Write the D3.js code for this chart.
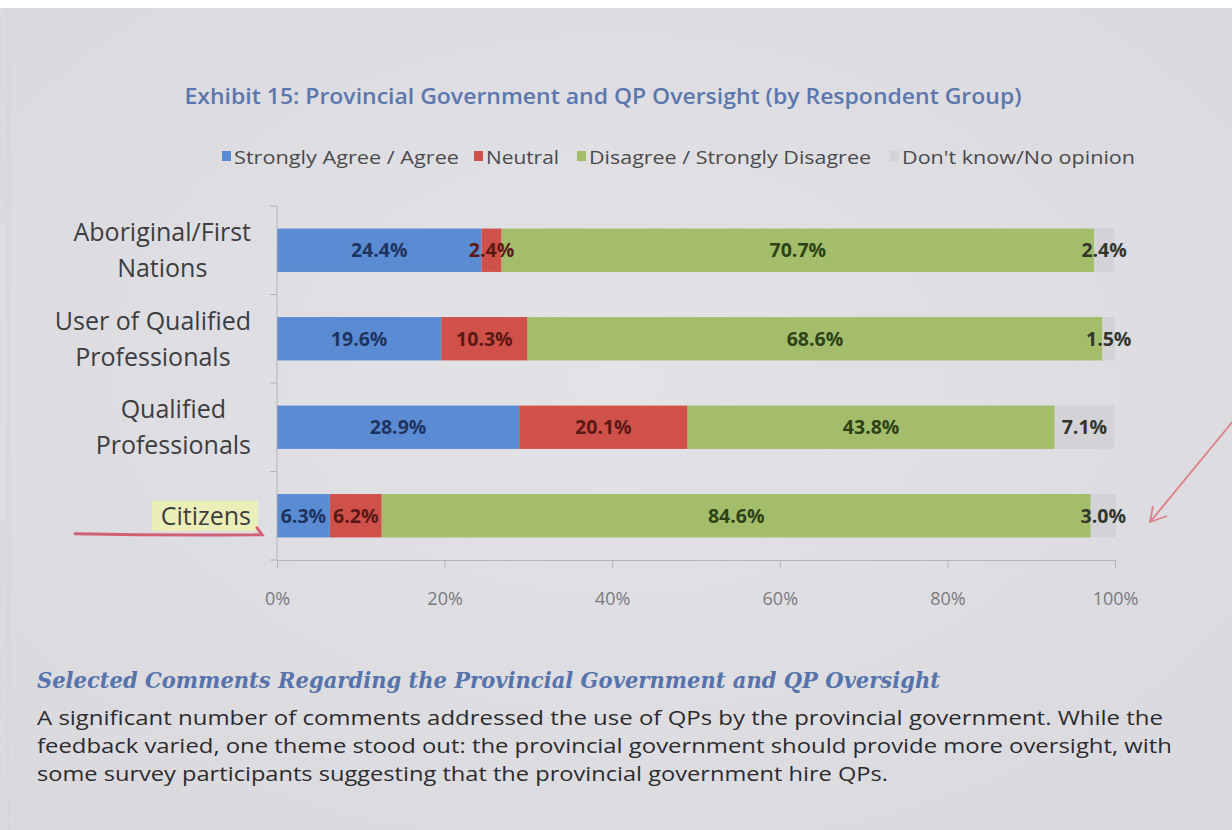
<!DOCTYPE html>
<html><head><meta charset="utf-8">
<script src="https://cdn.jsdelivr.net/npm/d3@7"></script>
<style>html,body{margin:0;padding:0;background:#dfdfe3;} svg{display:block;}</style>
</head><body>
<svg id="chart" width="1232" height="830"></svg>
<script>
// Survey responses by respondent group (percent of respondents)
const categories = ["Aboriginal/First Nations", "User of Qualified Professionals", "Qualified Professionals", "Citizens"];
const categoryLines = [["Aboriginal/First", "Nations"], ["User of Qualified", "Professionals"], ["Qualified", "Professionals"], ["Citizens"]];
const seriesNames = ["Strongly Agree / Agree", "Neutral", "Disagree / Strongly Disagree", "Don't know/No opinion"];
const agree    = [24.4, 19.6, 28.9, 6.3];
const neutral  = [2.4, 10.3, 20.1, 6.2];
const disagree = [70.7, 68.6, 43.8, 84.6];
const dontKnow = [2.4, 1.5, 7.1, 3.0];
const xTicks = [0, 20, 40, 60, 80, 100];
const tickLabels = ["0%", "20%", "40%", "60%", "80%", "100%"];

const colors = ["#5b8bd2", "#d0504a", "#a3bd6b", "#d2d2d7"];
const labelColors = ["#1d3461", "#5a1913", "#2e4217", "#33362c"];
const seriesKeys = ["agree", "neutral", "disagree", "dontKnow"];

const rows = categories.map((c, i) => ({
  category: c, agree: agree[i], neutral: neutral[i], disagree: disagree[i], dontKnow: dontKnow[i]
}));

const svg = d3.select("#chart");
const W = 1232, H = 830;
const font = "'Open Sans', 'DejaVu Sans', sans-serif";

// page background with a slight falloff toward the edges
const defs = svg.append("defs");
const bg = defs.append("radialGradient").attr("id", "bg").attr("cx", "50%").attr("cy", "45%").attr("r", "75%");
bg.append("stop").attr("offset", "0%").attr("stop-color", "#e3e3e7");
bg.append("stop").attr("offset", "100%").attr("stop-color", "#d9d8dd");
svg.append("rect").attr("width", W).attr("height", H).attr("fill", "url(#bg)");
svg.append("rect").attr("width", W).attr("height", 8).attr("fill", "#ffffff");
svg.append("line").attr("x1", 8).attr("x2", 8).attr("y1", 8).attr("y2", H)
  .attr("stroke", "#d2d2d6").attr("stroke-width", 1);

// title
svg.append("text").attr("x", 603).attr("y", 104).attr("text-anchor", "middle")
  .attr("font-family", font).attr("font-size", 22).attr("font-weight", 600)
  .attr("fill", "#5b77ad").attr("textLength", 837).attr("lengthAdjust", "spacingAndGlyphs")
  .text("Exhibit 15: Provincial Government and QP Oversight (by Respondent Group)");

// legend
const legend = svg.append("g").attr("font-family", font).attr("font-size", 18.5).attr("fill", "#4a4a4a");
const legendWidths = [237, 85, 294, 245];
const legendStarts = [222, 474, 577, 890];
seriesNames.forEach((name, i) => {
  const g = legend.append("g").attr("transform", `translate(${legendStarts[i]},0)`);
  g.append("rect").attr("x", 0).attr("y", 151).attr("width", 9).attr("height", 10).attr("fill", colors[i]);
  g.append("text").attr("x", 12).attr("y", 164).attr("textLength", legendWidths[i] - 12)
    .attr("lengthAdjust", "spacingAndGlyphs").text(name);
});

// scales
const x = d3.scaleLinear().domain([0, 100]).range([277, 1115]);
const y = d3.scaleBand().domain(categories).range([206, 560]).paddingInner(0.51).paddingOuter(0.255);

const stack = d3.stack().keys(seriesKeys)(rows);

// bars
const plot = svg.append("g");
stack.forEach((layer, si) => {
  plot.append("g").selectAll("rect").data(layer).join("rect")
    .attr("x", d => x(d[0]))
    .attr("y", d => y(d.data.category))
    .attr("width", d => x(d[1]) - x(d[0]))
    .attr("height", y.bandwidth())
    .attr("fill", colors[si]);
});

// value labels
stack.forEach((layer, si) => {
  plot.append("g").selectAll("text").data(layer).join("text")
    .attr("x", d => (x(d[0]) + x(d[1])) / 2)
    .attr("y", d => y(d.data.category) + y.bandwidth() / 2)
    .attr("dy", "0.36em")
    .attr("text-anchor", "middle")
    .attr("font-family", font).attr("font-size", 19.5).attr("font-weight", 700)
    .attr("fill", labelColors[si])
    .text(d => (d[1] - d[0]).toFixed(1) + "%");
});

// x axis
const xAxis = svg.append("g").attr("transform", `translate(0,${y.range()[1]})`)
  .call(d3.axisBottom(x).tickValues(xTicks).tickFormat((d, i) => tickLabels[i]).tickSize(8).tickPadding(24));
xAxis.select(".domain").attr("stroke", "#b3b3b8");
xAxis.selectAll(".tick line").attr("stroke", "#b3b3b8");
xAxis.selectAll(".tick text").attr("font-family", font).attr("font-size", 18).attr("fill", "#7a7a7e");

// y axis line with category separators
const yAxis = svg.append("g");
yAxis.append("line").attr("x1", x(0)).attr("x2", x(0)).attr("y1", y.range()[0]).attr("y2", y.range()[1])
  .attr("stroke", "#b3b3b8");
const seps = categories.map(c => y(c) - y.step() * y.paddingInner() / 2).concat([y.range()[1]]);
yAxis.selectAll("line.sep").data(seps).join("line").attr("class", "sep")
  .attr("x1", x(0) - 7).attr("x2", x(0)).attr("y1", d => d).attr("y2", d => d)
  .attr("stroke", "#b3b3b8");

// highlight behind the Citizens label
const citY = y("Citizens") + y.bandwidth() / 2;
svg.append("rect").attr("x", 152).attr("y", citY - 15).attr("width", 106).attr("height", 30)
  .attr("fill", "#ecefb2").attr("opacity", 0.9);

// category labels (wrapped lines centred on each other, block right-aligned)
const catG = svg.append("g").attr("font-family", font).attr("font-size", 25).attr("fill", "#3d3d40");
categories.forEach((c, i) => {
  const lines = categoryLines[i];
  const cy = y(c) + y.bandwidth() / 2;
  const texts = lines.map((ln, k) => catG.append("text")
    .attr("y", cy + (k - (lines.length - 1) / 2) * 36)
    .attr("dy", "0.36em").attr("text-anchor", "middle").text(ln));
  const wMax = d3.max(texts, t => t.node().getComputedTextLength());
  texts.forEach(t => t.attr("x", 251 - wMax / 2));
});

// hand-drawn red underline under Citizens
svg.append("path")
  .attr("d", `M75,${citY + 18} Q170,${citY + 20} 262,${citY + 19} L257,${citY + 12}`)
  .attr("fill", "none").attr("stroke", "#d04a60").attr("stroke-width", 3).attr("stroke-linecap", "round")
  .attr("opacity", 0.85);

// red pointer arrow on the right
const ax1 = 1234, ay1 = 420, ax2 = 1150, ay2 = 522;
svg.append("line").attr("x1", ax1).attr("y1", ay1).attr("x2", ax2).attr("y2", ay2)
  .attr("stroke", "#dd7f86").attr("stroke-width", 1.8);
svg.append("path").attr("d", `M${ax2 + 3},${ay2 - 16} L${ax2},${ay2} L${ax2 + 17},${ay2 - 6}`)
  .attr("fill", "none").attr("stroke", "#dd7f86").attr("stroke-width", 1.8);

// comments section
svg.append("text").attr("x", 37).attr("y", 688)
  .attr("font-family", "'DejaVu Serif', 'Liberation Serif', serif").attr("font-style", "italic").attr("font-weight", 700)
  .attr("font-size", 22).attr("fill", "#5673ab").attr("textLength", 903).attr("lengthAdjust", "spacingAndGlyphs")
  .text("Selected Comments Regarding the Provincial Government and QP Oversight");

const para = [
  ["A significant number of comments addressed the use of QPs by the provincial government. While the", 1126],
  ["feedback varied, one theme stood out: the provincial government should provide more oversight, with", 1135],
  ["some survey participants suggesting that the provincial government hire QPs.", 851]
];
svg.append("g").attr("font-family", font).attr("font-size", 20.5).attr("fill", "#2b2b2e")
  .selectAll("text").data(para).join("text")
  .attr("x", 37).attr("y", (d, i) => 725 + i * 28)
  .attr("textLength", d => d[1]).attr("lengthAdjust", "spacingAndGlyphs")
  .text(d => d[0]);
</script>
</body></html>
